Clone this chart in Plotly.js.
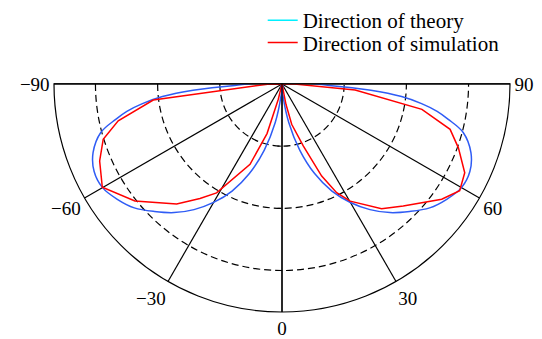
<!DOCTYPE html>
<html>
<head>
<meta charset="utf-8">
<script src="https://cdn.plot.ly/plotly-3.0.1.min.js"></script>
<style>
  html, body { margin: 0; padding: 0; background: #fff; }
  #chart { width: 542px; height: 339px; }
</style>
</head>
<body>
<div id="chart"></div>
<script>
// theory pattern, left lobe and right lobe (angle in degrees, 0 = straight down)
var theoryThetaLeft = [-90, -88, -86, -84, -82, -80, -78, -75, -70, -65, -60, -55, -50, -45, -40, -35, -30, -25, -20, -15, -10, -5, 0];
var theoryRLeft = [0, 0.24, 0.43, 0.58, 0.68, 0.76, 0.82, 0.905, 0.97, 1.0, 1.0, 0.97, 0.93, 0.87, 0.81, 0.74, 0.66, 0.57, 0.46, 0.33, 0.19, 0.06, 0];
var theoryThetaRight = [0, 5, 10, 15, 20, 25, 30, 35, 40, 45, 50, 55, 60, 65, 70, 75, 78, 80, 82, 84, 86, 88, 90];
var theoryRRight = [0, 0.06, 0.19, 0.33, 0.46, 0.57, 0.66, 0.74, 0.81, 0.87, 0.93, 0.97, 1.0, 1.0, 0.97, 0.905, 0.82, 0.76, 0.68, 0.58, 0.43, 0.24, 0];

// simulation pattern
var simTheta = [-90, -89, -82.9, -77.3, -72.8, -67.1, -60.1, -51.5, -41.3, -35.6, -31, -21.7, -16.8, -13.6, 0,
                11, 13.5, 19, 23.3, 26.7, 30.2, 38.6, 44.8, 54.2, 59, 64.1, 70.1, 74.9, 79.7, 85.3, 89.5, 90];
var simR = [0, 0.07, 0.626, 0.81, 0.903, 0.955, 1.0, 0.907, 0.77, 0.68, 0.613, 0.417, 0.25, 0.076, 0,
            0.1, 0.2, 0.317, 0.484, 0.587, 0.654, 0.77, 0.83, 0.95, 1.0, 0.98, 0.905, 0.84, 0.686, 0.354, 0.06, 0];

// angular ticks -90..90, written in the angular range plotly uses for this sector
var angleTicks = [270, 300, 330, 360, 390, 420, 450];
var angleLabels = ['\u221290', '\u221260', '\u221230', '0', '30', '60', '90'];
var radialTicks = [0.3, 0.6, 0.9];

var serif = 'Liberation Serif, Times New Roman, serif';

var data = [
  {type: 'scatterpolar', mode: 'lines', r: theoryRLeft, theta: theoryThetaLeft,
   line: {color: '#2f5cf5', width: 1.5, shape: 'spline'}, showlegend: false, hoverinfo: 'skip'},
  {type: 'scatterpolar', mode: 'lines', r: theoryRRight, theta: theoryThetaRight,
   line: {color: '#2f5cf5', width: 1.5, shape: 'spline'}, showlegend: false, hoverinfo: 'skip'},
  // legend entry only (the reference legend swatch is cyan)
  {type: 'scatterpolar', mode: 'lines', r: [null], theta: [null], legend: 'legend',
   name: 'Direction of theory', line: {color: '#00f0ff', width: 1.5}},
  {type: 'scatterpolar', mode: 'lines', r: simR, theta: simTheta, legend: 'legend2',
   name: 'Direction of simulation', line: {color: '#ff0000', width: 1.5}}
];

var legendFont = {family: serif, size: 21, color: '#000'};

var layout = {
  width: 542,
  height: 339,
  margin: {l: 0, r: 0, t: 0, b: 0},
  paper_bgcolor: '#fff',
  font: {family: serif, size: 21, color: '#000'},
  showlegend: true,
  legend: {
    x: 0.4847, y: 1.0, xanchor: 'left', yanchor: 'top',
    bgcolor: 'rgba(0,0,0,0)', borderwidth: 0, font: legendFont
  },
  legend2: {
    x: 0.4847, y: 0.934, xanchor: 'left', yanchor: 'top',
    bgcolor: 'rgba(0,0,0,0)', borderwidth: 0, font: legendFont
  },
  polar: {
    domain: {x: [0.0996, 0.941], y: [0.0797, 0.7523]},
    sector: [180, 360],
    bgcolor: '#fff',
    angularaxis: {
      rotation: 270,
      direction: 'counterclockwise',
      thetaunit: 'degrees',
      tickmode: 'array',
      tickvals: angleTicks,
      ticktext: angleLabels,
      ticks: '',
      showline: true,
      linecolor: '#000',
      linewidth: 1.2,
      showgrid: true,
      gridcolor: '#000',
      gridwidth: 1.2,
      tickfont: {family: serif, size: 19, color: '#000'}
    },
    radialaxis: {
      range: [0, 1.1],
      angle: 270,
      tickmode: 'array',
      tickvals: radialTicks,
      showticklabels: false,
      ticks: 'outside',
      ticklen: 4,
      tickcolor: '#000',
      showline: true,
      linecolor: '#000',
      linewidth: 1.2,
      showgrid: true,
      gridcolor: '#000',
      gridwidth: 1.2,
      griddash: '7px,4px'
    }
  }
};

Plotly.newPlot('chart', data, layout, {displayModeBar: false, staticPlot: true});
</script>
</body>
</html>
